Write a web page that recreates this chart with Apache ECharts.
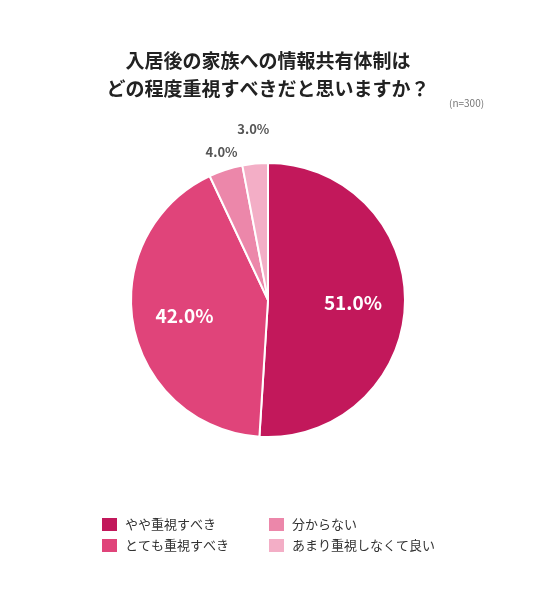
<!DOCTYPE html>
<html lang="ja">
<head>
    <meta charset="UTF-8">
    <title>情報共有体制</title>
    <script src="https://cdn.jsdelivr.net/npm/echarts@6/dist/echarts.min.js"></script>
    <style>
        html,body{margin:0;padding:0;background:#fff;}
        #chart{width:536px;height:590px;}
    </style>
</head>
<body>
<div id="chart"></div>
<script>
    var names = ['やや重視すべき', 'とても重視すべき', '分からない', 'あまり重視しなくて良い'];
    var values = [51.0, 42.0, 4.0, 3.0];
    var colors = ['#c2185b', '#e0447a', '#ec87aa', '#f3aec6'];
    var insideLabel = [true, true, false, false];
    // small nudges for the outer labels
    var outerOffset = [[0, 0], [0, 0], [5, 10], [1, -5]];

    var font = '"Noto Sans CJK JP", "Noto Sans", sans-serif';
    var center = [268, 300];

    function buildData(kind) {
        var arr = [];
        for (var i = 0; i < names.length; i++) {
            var item = {name: names[i], value: values[i]};
            if (kind === 'main') {
                item.itemStyle = {color: colors[i]};
            } else {
                var show = kind === 'inner' ? insideLabel[i] : !insideLabel[i];
                item.label = {show: show};
                if (kind === 'outer') item.label.offset = outerOffset[i];
            }
            arr.push(item);
        }
        return arr;
    }

    function legendCol(data, left) {
        return {
            data: data,
            orient: 'vertical',
            left: left,
            top: 513,
            icon: 'rect',
            itemWidth: 15,
            itemHeight: 13,
            itemGap: 8,
            selectedMode: false,
            itemStyle: {borderWidth: 0},
            textStyle: {fontFamily: font, fontSize: 13, color: '#333', padding: [0, 0, 0, 3]}
        };
    }

    var chart = echarts.init(document.getElementById('chart'));
    chart.setOption({
        animation: false,
        title: [{
            text: '入居後の家族への情報共有体制は\nどの程度重視すべきだと思いますか？',
            left: 'center',
            top: 42,
            textStyle: {fontFamily: font, fontSize: 19, fontWeight: 'bold', color: '#222', lineHeight: 28}
        }, {
            text: '(n=300)',
            left: 444,
            top: 93,
            textStyle: {fontFamily: font, fontSize: 10, fontWeight: 'normal', color: '#777'}
        }],
        legend: [legendCol(names.slice(0, 2), 97), legendCol(names.slice(2), 264)],
        series: [{
            type: 'pie',
            center: center,
            radius: [0, 137],
            startAngle: 90,
            clockwise: true,
            silent: true,
            itemStyle: {borderColor: '#fff', borderWidth: 2},
            label: {show: false},
            labelLine: {show: false},
            data: buildData('main')
        }, {
            type: 'pie',
            center: center,
            radius: [27, 137],
            startAngle: 90,
            clockwise: true,
            silent: true,
            itemStyle: {color: 'rgba(0,0,0,0)'},
            label: {
                position: 'inside',
                formatter: function (p) { return p.value.toFixed(1) + '%'; },
                fontFamily: font, fontSize: 19, fontWeight: 'bold', color: '#fff'
            },
            labelLine: {show: false},
            data: buildData('inner')
        }, {
            type: 'pie',
            center: center,
            radius: [137, 190],
            startAngle: 90,
            clockwise: true,
            silent: true,
            itemStyle: {color: 'rgba(0,0,0,0)'},
            label: {
                position: 'inside',
                formatter: function (p) { return p.value.toFixed(1) + '%'; },
                fontFamily: font, fontSize: 13, fontWeight: 'bold', color: '#555'
            },
            labelLine: {show: false},
            data: buildData('outer')
        }]
    });
</script>
</body>
</html>
